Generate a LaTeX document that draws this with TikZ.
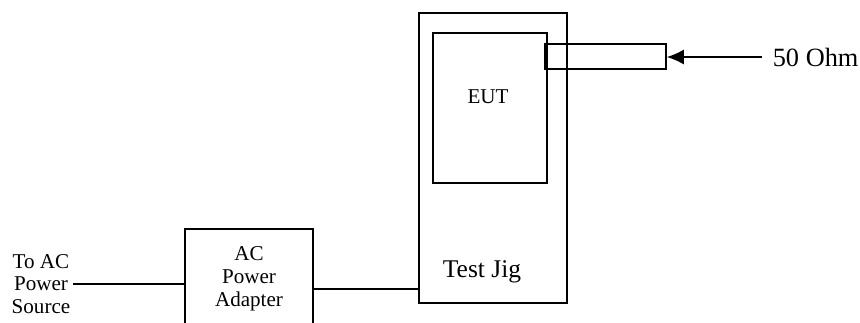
\documentclass[tikz,border=0pt]{standalone}
\usepackage{fontspec}
\setmainfont{Liberation Serif}
\usetikzlibrary{positioning,arrows.meta}

\begin{document}
\begin{tikzpicture}[
x=0.02cm, y=-0.02cm,
line width=0.9pt,
box/.style={
draw,
inner sep=0pt
},
txt/.style={
font=\fontsize{12}{13}\selectfont,
align=center,
inner sep=1pt
},
>={Latex[length=0.34cm,width=0.3cm]}
]
\useasboundingbox (0,0) rectangle (860,322);

\node (jig) [box, minimum width=2.96cm, minimum height=5.8cm] at (493,158) {};

\node (eut) [box, minimum width=2.28cm, minimum height=3cm] at (490,108) {};
\node (euttxt) [txt] at (488,97) {EUT};

\node (conn) [box, minimum width=2.42cm, minimum height=0.5cm] at (605.5,56.5) {};

\node (ohm) [txt, anchor=west, inner xsep=5.7pt,
font=\fontsize{15}{17}\selectfont] at (762,57) {50 Ohm};

\node (jigtxt) [txt, font=\fontsize{14.5}{16}\selectfont] at (482,272) {Test Jig};

\node (adapter) [box, txt, minimum width=2.56cm, minimum height=2cm] at (249,279) {AC\\Power\\Adapter};

\node (source) [txt] at (41,284) {To AC\\Power\\Source};

\coordinate (jigin) at (419,289);

\draw[->] (ohm.west) -- (ohm.west -| conn.east);
\draw (source.east) -- (source.east -| adapter.west);
\draw (jigin -| adapter.east) -- (jigin);

\end{tikzpicture}
\end{document}
